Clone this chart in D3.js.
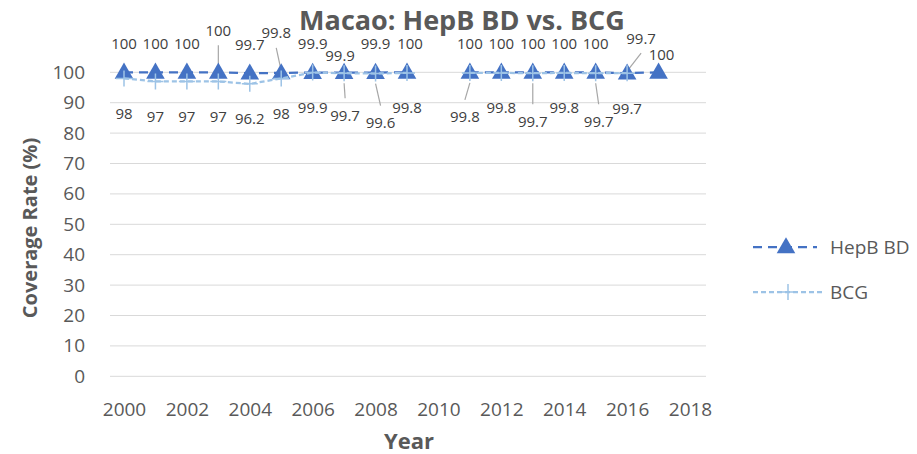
<!DOCTYPE html>
<html>
<head>
<meta charset="utf-8">
<script src="https://d3js.org/d3.v7.min.js"></script>
<style>
  body { margin: 0; background: #fff; }
  svg { font-family: "Open Sans", sans-serif; }
</style>
</head>
<body>
<svg id="chart" width="917" height="454"></svg>
<script>
// data
var years = [2000, 2001, 2002, 2003, 2004, 2005, 2006, 2007, 2008, 2009,
             2010, 2011, 2012, 2013, 2014, 2015, 2016, 2017];
var hepb = [100, 100, 100, 100, 99.7, 99.8, 99.9, 99.9, 99.9, 100,
            null, 100, 100, 100, 100, 100, 99.7, 100];
var bcg = [98, 97, 97, 97, 96.2, 98, 99.9, 99.7, 99.6, 99.8,
           null, 99.8, 99.8, 99.7, 99.8, 99.7, 99.7, null];
var xTicks = [2000, 2002, 2004, 2006, 2008, 2010, 2012, 2014, 2016, 2018];
var yTicks = [0, 10, 20, 30, 40, 50, 60, 70, 80, 90, 100];

// label nudges (px) where Excel moved a label, [dx, dy, leader?]
var hepbShift = { 2003: [0, -13, true], 2005: [-5, -11, true], 2007: [-4, 12, false],
                  2009: [3, 0, false], 2016: [14, -6, true], 2017: [3, 11, false] };
var bcgShift = { 2007: [1, 7, true], 2008: [5, 14, true], 2011: [-5, 9, true],
                 2013: [0, 13, true], 2015: [3, 13, true] };

var svg = d3.select("#chart");
var x = d3.scaleLinear().domain([2000, 2018]).range([124, 690]);
var y = d3.scaleLinear().domain([0, 100]).range([376.3, 72.3]);

var grey = "#595959", dark = "#404040";
var blue = "#4472C4", light = "#9DC3E6";

// gridlines
svg.append("g").selectAll("line").data(yTicks).enter().append("line")
  .attr("x1", 110).attr("x2", 706)
  .attr("y1", function(d) { return y(d); }).attr("y2", function(d) { return y(d); })
  .attr("stroke", "#d9d9d9").attr("stroke-width", 1);

// axes
var yAxis = svg.append("g").attr("transform", "translate(110,0)")
  .call(d3.axisLeft(y).tickValues(yTicks).tickSize(0).tickPadding(25));
var xAxis = svg.append("g").attr("transform", "translate(0,376.3)")
  .call(d3.axisBottom(x).tickValues(xTicks).tickFormat(d3.format("d")).tickSize(0).tickPadding(26));
[yAxis, xAxis].forEach(function(a) {
  a.select(".domain").remove();
  a.selectAll("text").attr("fill", grey).style("font-size", "19px")
    .style("font-family", "'Open Sans', sans-serif");
});

// titles
svg.append("text").attr("x", 462).attr("y", 30).attr("text-anchor", "middle")
  .attr("fill", grey).style("font-size", "27px").style("font-weight", "bold")
  .text("Macao: HepB BD vs. BCG");
svg.append("text").attr("transform", "translate(37,228) rotate(-90)")
  .attr("text-anchor", "middle").attr("fill", grey)
  .style("font-size", "20px").style("font-weight", "bold").text("Coverage Rate (%)");
svg.append("text").attr("x", 409).attr("y", 449).attr("text-anchor", "middle")
  .attr("fill", grey).style("font-size", "22px").style("font-weight", "bold").text("Year");

function rows(vals) {
  return years.map(function(yr, i) { return { year: yr, v: vals[i] }; });
}
var line = d3.line().defined(function(d) { return d.v != null; })
  .x(function(d) { return x(d.year); }).y(function(d) { return y(d.v); });

var tri = d3.symbol().type(d3.symbolTriangle).size(150);

function labelPos(d, shift, below) {
  var s = shift[d.year] || [0, 0, false];
  var cy = y(d.v) + (below ? 35 : -29) + s[1];
  return { x: x(d.year) + s[0], cy: cy, leader: s[2] };
}

function drawLabels(data, shift, below) {
  var g = svg.append("g");
  data.forEach(function(d) {
    if (d.v == null) return;
    var p = labelPos(d, shift, below);
    if (p.leader) {
      g.append("line")
        .attr("x1", p.x).attr("y1", below ? p.cy - 17 : p.cy + 15)
        .attr("x2", x(d.year)).attr("y2", below ? y(d.v) + 10 : y(d.v) - 2)
        .attr("stroke", "#a6a6a6").attr("stroke-width", 1.2);
    }
    g.append("text").attr("x", p.x).attr("y", p.cy + 5.4)
      .attr("text-anchor", "middle").attr("fill", dark)
      .style("font-size", "15px").text(d.v);
  });
}

var hData = rows(hepb), bData = rows(bcg);

drawLabels(hData, hepbShift, false);
drawLabels(bData, bcgShift, true);

// HepB BD series
svg.append("path").datum(hData).attr("d", line)
  .attr("fill", "none").attr("stroke", blue).attr("stroke-width", 2.25)
  .attr("stroke-dasharray", "9,6");
svg.append("g").selectAll("path").data(hData.filter(function(d) { return d.v != null; }))
  .enter().append("path").attr("d", tri)
  .attr("transform", function(d) { return "translate(" + x(d.year) + "," + (y(d.v) + 1) + ")"; })
  .attr("fill", blue);

// BCG series
svg.append("path").datum(bData).attr("d", line)
  .attr("fill", "none").attr("stroke", light).attr("stroke-width", 2.25)
  .attr("stroke-dasharray", "5,3");
svg.append("g").selectAll("path").data(bData.filter(function(d) { return d.v != null; }))
  .enter().append("path")
  .attr("d", function(d) {
    var cx = x(d.year), cy = y(d.v);
    return "M" + (cx - 8) + "," + cy + "H" + (cx + 8) + "M" + cx + "," + (cy - 8) + "V" + (cy + 8);
  })
  .attr("stroke", light).attr("stroke-width", 1.5).attr("fill", "none");

// legend
var leg = svg.append("g");
leg.append("line").attr("x1", 753).attr("x2", 817).attr("y1", 247).attr("y2", 247)
  .attr("stroke", blue).attr("stroke-width", 2.25).attr("stroke-dasharray", "9,6");
leg.append("path").attr("d", tri).attr("transform", "translate(786,248)").attr("fill", blue);
leg.append("text").attr("x", 830).attr("y", 254).attr("fill", grey)
  .style("font-size", "19px").text("HepB BD");
leg.append("line").attr("x1", 753).attr("x2", 822).attr("y1", 292).attr("y2", 292)
  .attr("stroke", light).attr("stroke-width", 2.25).attr("stroke-dasharray", "5,3");
leg.append("path").attr("d", "M780,292H796M788,284V300")
  .attr("stroke", light).attr("stroke-width", 1.5);
leg.append("text").attr("x", 830).attr("y", 299).attr("fill", grey)
  .style("font-size", "19px").text("BCG");
</script>
</body>
</html>
